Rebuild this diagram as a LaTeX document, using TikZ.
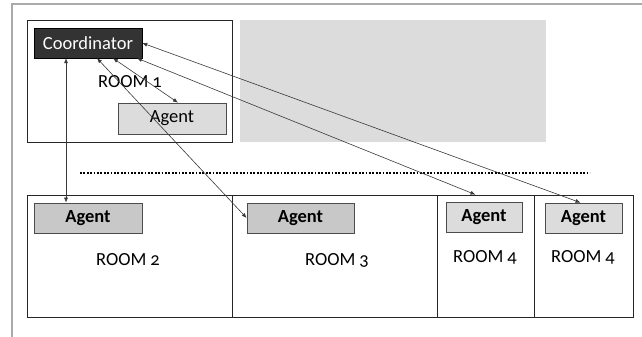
\documentclass[tikz,border=0pt]{standalone}
\usepackage{fontspec}
\setmainfont[Numbers=OldStyle]{Carlito}
\usetikzlibrary{arrows.meta}
\definecolor{coordfill}{HTML}{333333}
\definecolor{agentdark}{HTML}{C8C8C8}
\definecolor{agentlight}{HTML}{DCDCDC}
\definecolor{panelgray}{HTML}{DCDCDC}
\definecolor{framegray}{HTML}{AAAAAA}
\definecolor{linkgray}{HTML}{383838}
\tikzset{
  room/.style={draw=black!85, line width=0.7pt, inner sep=0pt},
  agentbox/.style={draw=black!70, line width=0.7pt, inner sep=0pt, font=\fontsize{18.5}{20}\selectfont},
  label/.style={font=\fontsize{18.5}{20}\selectfont, inner sep=0pt},
  link/.style={draw=linkgray, line width=0.6pt, {Latex[length=5pt,width=4pt]}-{Latex[length=5pt,width=4pt]}},
}
\begin{document}
\begin{tikzpicture}[x=1pt,y=-1pt]
\useasboundingbox (0,0) rectangle (642,337);
% outer frame
\coordinate (fa) at (12,337);
\coordinate (fb) at (12,4);
\coordinate (fc) at (642,4);
\draw[framegray, line width=1.6pt] (fa) -- (fb) -- (fc);
% gray panel
\node[fill=panelgray, inner sep=0pt, minimum width=306pt, minimum height=122pt] (panel) at (393,81) {};
% room 1
\node[room, minimum width=205pt, minimum height=122pt] (r1) at (129.5,81) {};
\node[fill=coordfill, draw=black, inner sep=0pt, minimum width=108pt, minimum height=30pt, text=white, font=\fontsize{18.5}{20}\selectfont] (coord) at (88,43) {Coordinator};
\node[label] (l1) at (130,82) {ROOM 1};
\node[agentbox, fill=agentlight, minimum width=108pt, minimum height=31pt] (a1) at (172,118.5) {Agent};
% dotted separator
\coordinate (d1) at (80,173);
\coordinate (d2) at (590,173);
\draw[black, line width=2pt, dash pattern=on 1.8pt off 1.6pt] (d1) -- (d2);
% bottom rooms
\node[room, minimum width=205pt, minimum height=122pt] (r2) at (129.5,256) {};
\node[room, minimum width=205pt, minimum height=122pt] (r3) at (334.5,256) {};
\node[room, minimum width=97pt, minimum height=122pt] (r4a) at (485.5,256) {};
\node[room, minimum width=99pt, minimum height=122pt] (r4b) at (583.5,256) {};
\node[agentbox, fill=agentdark, font=\fontsize{18.5}{20}\selectfont\bfseries, minimum width=108pt, minimum height=30pt] (a2) at (88,218) {Agent};
\node[agentbox, fill=agentdark, font=\fontsize{18.5}{20}\selectfont\bfseries, minimum width=107pt, minimum height=30pt] (a3) at (300.5,218) {Agent};
\node[agentbox, fill=agentlight, font=\fontsize{18.5}{20}\selectfont\bfseries, minimum width=76pt, minimum height=30pt] (a4a) at (484,217) {Agent};
\node[agentbox, fill=agentlight, font=\fontsize{18.5}{20}\selectfont\bfseries, minimum width=77pt, minimum height=30pt] (a4b) at (583.5,218) {Agent};
\node[label] (l2) at (128,260) {ROOM 2};
\node[label] (l3) at (337,260) {ROOM 3};
\node[label] (l4a) at (485,257) {ROOM 4};
\node[label] (l4b) at (583,257) {ROOM 4};
% links
\draw[link] ([xshift=-22pt]coord.south) -- ([xshift=-22pt]a2.north);
\draw[link] ([xshift=9pt]coord.south) -- (a3.west);
\draw[link] ([xshift=25pt]coord.south) -- ([xshift=6pt]a1.north);
\draw[link] ([xshift=49pt]coord.south) -- ([xshift=-10pt]r4a.north);
\draw[link] (coord.east) -- ([xshift=-3pt]a4b.north);
\end{tikzpicture}
\end{document}
